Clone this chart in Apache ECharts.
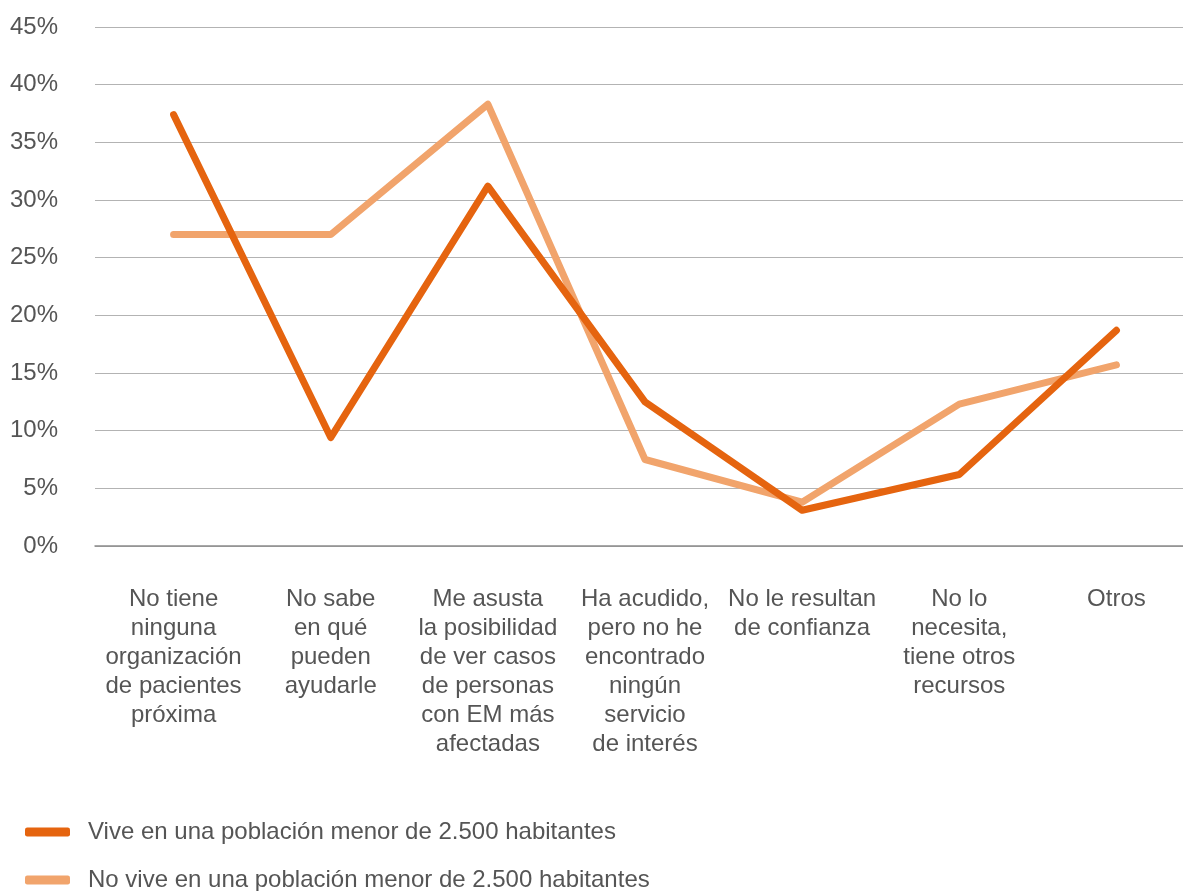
<!DOCTYPE html>
<html>
<head>
<meta charset="utf-8">
<script src="https://cdn.jsdelivr.net/npm/echarts@6/dist/echarts.min.js"></script>
<style>html,body{margin:0;padding:0;background:#fff}#c{width:1183px;height:891px}</style>
</head>
<body>
<div id="c"></div>
<script>
const categories = [
  "No tiene\nninguna\norganización\nde pacientes\npróxima",
  "No sabe\nen qué\npueden\nayudarle",
  "Me asusta\nla posibilidad\nde ver casos\nde personas\ncon EM más\nafectadas",
  "Ha acudido,\npero no he\nencontrado\nningún\nservicio\nde interés",
  "No le resultan\nde confianza",
  "No lo\nnecesita,\ntiene otros\nrecursos",
  "Otros"
];
const seriesNames = ["Vive en una población menor de 2.500 habitantes", "No vive en una población menor de 2.500 habitantes"];
const viveMenor = [37.4, 9.4, 31.2, 12.5, 3.1, 6.2, 18.7];
const noViveMenor = [27.0, 27.0, 38.3, 7.5, 3.8, 12.3, 15.7];
const colors = ["#E5640F", "#F1A46C"];

const chart = echarts.init(document.getElementById('c'));
const font = "Liberation Sans, Arial, sans-serif";
const legendBase = {
  left: 25, padding: 0,
  itemWidth: 45, itemHeight: 9,
  icon: 'roundRect',
  textStyle: {color: '#555', fontSize: 24, fontFamily: font, padding: [0,0,0,13]}
};
chart.setOption({
  animation: false,
  textStyle: {fontFamily: font},
  grid: {left: 95, width: 1100, top: 27, bottom: 345, containLabel: false, outerBoundsMode: 'none'},
  xAxis: {
    type: 'category',
    data: categories,
    boundaryGap: true,
    axisLine: {lineStyle: {color: '#8c8c8c', width: 1.5}},
    axisTick: {alignWithLabel: true, length: 6, lineStyle: {color: '#b0b0b0'}},
    axisLabel: {color: '#555', fontSize: 24, lineHeight: 29, margin: 39, interval: 0, fontFamily: font}
  },
  yAxis: {
    type: 'value',
    min: 0, max: 45, interval: 5,
    axisLine: {show: false},
    axisTick: {show: false},
    axisLabel: {formatter: '{value}%', color: '#555', fontSize: 24, margin: 37, fontFamily: font},
    splitLine: {lineStyle: {color: '#b3b3b3', width: 1.2}}
  },
  legend: [
    Object.assign({}, legendBase, {top: 820, data: [seriesNames[0]]}),
    Object.assign({}, legendBase, {top: 868, data: [seriesNames[1]]})
  ],
  series: [
    {name: seriesNames[0], type: 'line', data: viveMenor, symbol: 'none', color: colors[0],
     lineStyle: {width: 7, color: colors[0], cap: 'round', join: 'round'}, z: 3},
    {name: seriesNames[1], type: 'line', data: noViveMenor, symbol: 'none', color: colors[1],
     lineStyle: {width: 7, color: colors[1], cap: 'round', join: 'round'}, z: 2}
  ]
});
</script>
</body>
</html>
